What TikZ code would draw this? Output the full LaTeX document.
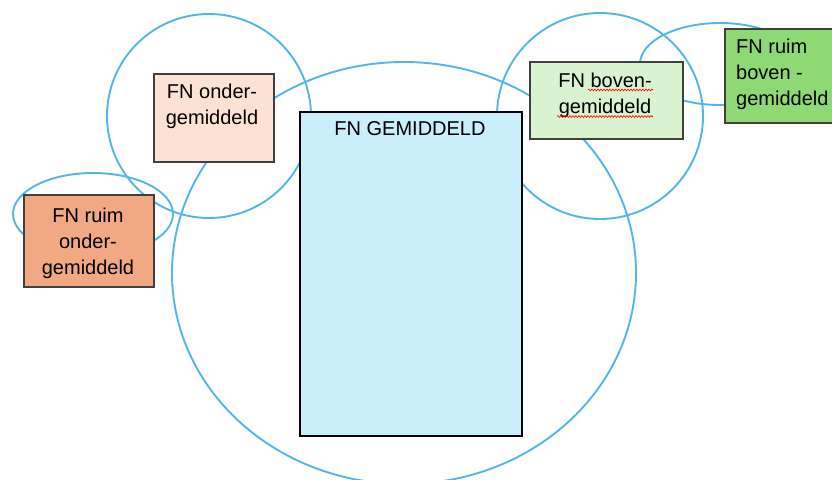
\documentclass[tikz,border=0pt]{standalone}
\usepackage{fontspec}
\setmainfont{Liberation Sans}
\usepackage{tikz}
\usetikzlibrary{decorations.pathmorphing}

\definecolor{ringblue}{HTML}{55B5E8}
\definecolor{ruimonderfill}{HTML}{F1A983}
\definecolor{onderfill}{HTML}{FBE2D5}
\definecolor{gemfill}{HTML}{CAEEFB}
\definecolor{bovenfill}{HTML}{D9F2D0}
\definecolor{ruimbovenfill}{HTML}{8ED973}

\begin{document}
\begin{tikzpicture}[x=1pt,y=-1pt,
  ring/.style={draw=ringblue, line width=1.9pt},
  fnbox/.style={rectangle, draw=black!75, line width=1.5pt, inner sep=0pt, anchor=north west},
  fntext/.style={font=\fontsize{20}{26}\selectfont, align=center, inner sep=0pt, anchor=north},
  spell/.style={draw=red, line width=0.6pt, decorate,
    decoration={snake, amplitude=0.9pt, segment length=3pt}}]

\useasboundingbox (0,0) rectangle (832,479);
\clip (0,0) rectangle (832,479);

% the rings
\draw[ring] (404,273) ellipse [x radius=232pt, y radius=211pt];
\draw[ring] (209,116) circle [radius=102pt];
\draw[ring] (600,116) circle [radius=103pt];
\draw[ring] (93,214) ellipse [x radius=80pt, y radius=41pt];
\draw[ring] (720,64) ellipse [x radius=80pt, y radius=41pt];

% the boxes
\node[fnbox, fill=ruimonderfill, minimum width=130pt, minimum height=92pt] (ruimonder) at (23,194) {};
\node[fnbox, fill=onderfill, minimum width=120pt, minimum height=88pt] (onder) at (153,73) {};
\node[fnbox, fill=gemfill, draw=black, minimum width=222pt, minimum height=324pt] (gemiddeld) at (299,111) {};
\node[fnbox, fill=bovenfill, minimum width=153pt, minimum height=77pt] (boven) at (529,61) {};
\node[fnbox, fill=ruimbovenfill, minimum width=130pt, minimum height=94pt] (ruimboven) at (724,28) {};

% the texts
\node[fntext] (ruimonder-t) at (88,207.7) {FN ruim\\onder-\\gemiddeld};
\node[fntext] (onder-t) at (212,83.4) {FN onder-\\gemiddeld};
\node[fntext] (gemiddeld-t) at (410,121.7) {FN GEMIDDELD};
\node[fntext] (boven-t) at (605,72.4) {FN boven-\\gemiddeld};
\node[fntext, align=left, anchor=north west] (ruimboven-t) at (736,38.7) {FN ruim\\boven -\\gemiddeld};

\draw[spell] (588,90) -- (653,90);
\draw[spell] (557,116.5) -- (653,116.5);

\end{tikzpicture}
\end{document}
